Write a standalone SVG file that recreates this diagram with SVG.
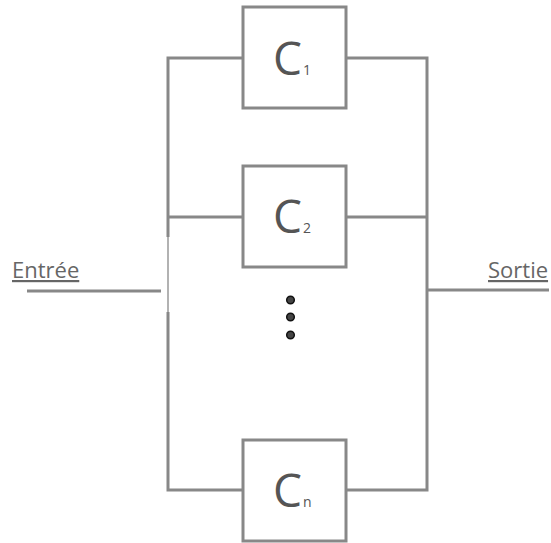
<svg xmlns="http://www.w3.org/2000/svg" width="551" height="543" viewBox="0 0 551 543">
<style>
.ln{stroke:#888;stroke-width:3;fill:none}
.lt{stroke:#999;stroke-width:1.5;fill:none}
.box{fill:#fff;stroke:#888;stroke-width:3}
.c{font-family:'Open Sans','Noto Sans',sans-serif;font-size:46px;fill:#555}
.s{font-family:'Open Sans','Noto Sans',sans-serif;font-size:14px;fill:#555}
.lbl{font-family:'Open Sans','Noto Sans',sans-serif;font-size:22px;fill:#666;text-decoration:underline}
</style>
<rect width="551" height="543" fill="#fff"/>
<g id="connectors">
<path class="ln" d="M168 237 V58 H243"/>
<path class="lt" d="M168 237 V312"/>
<path class="ln" d="M168 312 V490 H243"/>
<path class="ln" d="M168 217 H243"/>
<path class="ln" d="M346 58 H427 V490 H346"/>
<path class="ln" d="M346 217 H427"/>
<path class="ln" d="M27 291 H161"/>
<path class="ln" d="M427 290 H549"/>
</g>
<g id="entree"><text class="lbl" x="12" y="278">Entrée</text></g>
<g id="sortie"><text class="lbl" x="488" y="278">Sortie</text></g>
<g id="c1">
<rect class="box" x="243" y="7" width="103" height="101"/>
<text class="c" x="273" y="75">C<tspan class="s" dx="1">1</tspan></text>
</g>
<g id="c2">
<rect class="box" x="243" y="166" width="103" height="101"/>
<text class="c" x="273" y="233">C<tspan class="s" dx="1">2</tspan></text>
</g>
<g id="cn">
<rect class="box" x="243" y="440" width="103" height="101"/>
<text class="c" x="273" y="507">C<tspan class="s" dx="1">n</tspan></text>
</g>
<g id="dots" fill="#444" stroke="#111" stroke-width="1.5">
<circle cx="290.5" cy="300" r="3.8"/>
<circle cx="290.5" cy="317" r="3.8"/>
<circle cx="290.5" cy="335" r="3.8"/>
</g>
</svg>
